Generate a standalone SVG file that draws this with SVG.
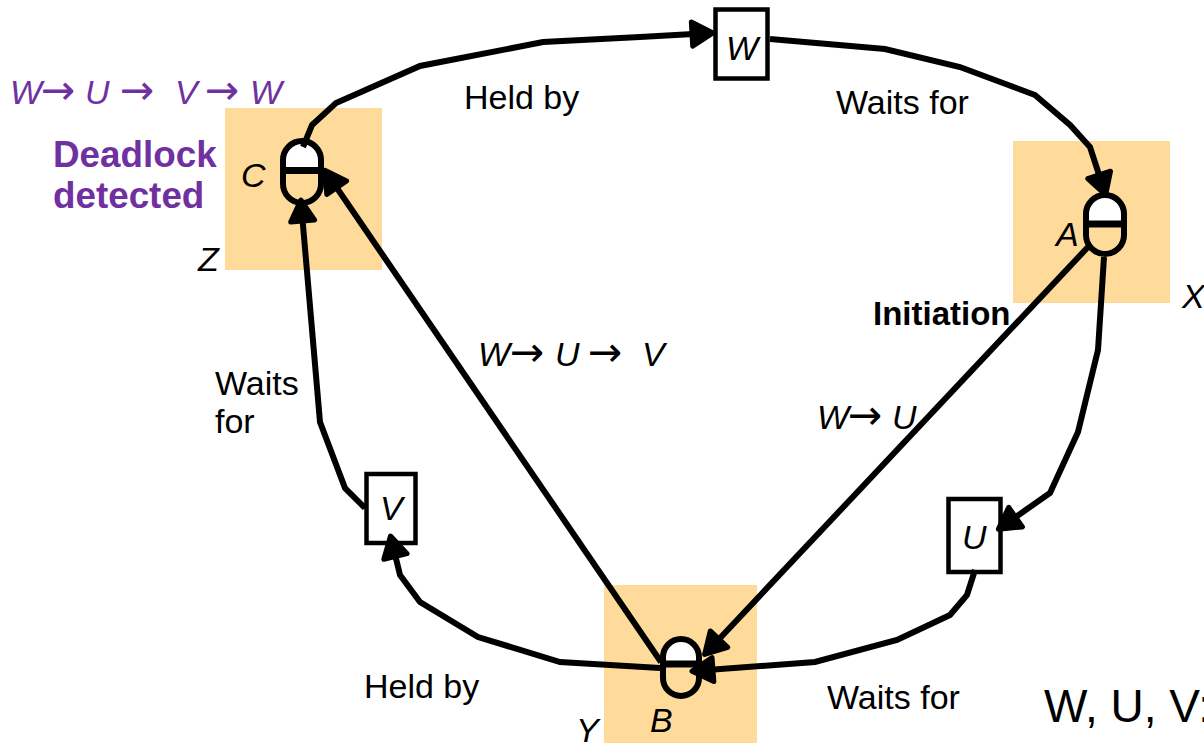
<svg xmlns="http://www.w3.org/2000/svg" width="1204" height="743" viewBox="0 0 1204 743">
<style>
text{font-family:"Liberation Sans",Arial,sans-serif;font-size:34px;fill:#000}
.i{font-style:italic}
.p{fill:#7030a0}
.b{font-weight:bold}
.ar{font-family:"DejaVu Sans",sans-serif;font-style:normal;font-size:41px}
.zone{fill:#fedb9a}
.box{fill:#fff;stroke:#000;stroke-width:4.500}
.cap{fill:none;stroke:#000;stroke-width:6}
.top{fill:#fff}
.bar{stroke:#000;stroke-width:7}
.c{fill:none;stroke:#000;stroke-width:6;stroke-linejoin:miter;marker-end:url(#a)}
</style>
<defs>
<marker id="a" markerUnits="userSpaceOnUse" markerWidth="36" markerHeight="36" refX="20" refY="13" orient="auto" viewBox="-4 -4 36 36">
<path d="M1 1L22 13L1 25Z" fill="#000" stroke="#000" stroke-width="5" stroke-linejoin="round"/>
</marker>
</defs>
<g id="zone-z"><rect class="zone" x="225" y="108" width="157" height="162"/></g>
<g id="zone-x"><rect class="zone" x="1013" y="141" width="157" height="162"/></g>
<g id="zone-y"><rect class="zone" x="604" y="585" width="153" height="158"/></g>
<g id="node-c">
<path class="top" d="M283 170V160a19 19 0 0 1 38 0V170Z"/>
<rect class="cap" x="283" y="141" width="38" height="62" rx="19"/>
<line class="bar" x1="283" y1="170.500" x2="321" y2="170.500"/>
<text class="i" x="241" y="187">C</text>
</g>
<g id="node-a">
<path class="top" d="M1086 224V214a19 19 0 0 1 38 0V224Z"/>
<rect class="cap" x="1086" y="195" width="38" height="59" rx="19"/>
<line class="bar" x1="1086" y1="224" x2="1124" y2="224"/>
<text class="i" x="1056" y="246">A</text>
</g>
<g id="node-b">
<path class="top" d="M663 664V657a18 18 0 0 1 36 0V664Z"/>
<rect class="cap" x="663" y="639" width="36" height="57" rx="18"/>
<line class="bar" x1="663" y1="664" x2="699" y2="664"/>
<text class="i" x="650" y="732">B</text>
</g>
<g id="node-w"><rect class="box" x="715.500" y="9.500" width="52" height="69"/><text class="i" x="726" y="60">W</text></g>
<g id="node-v"><rect class="box" x="366.500" y="474" width="49" height="69"/><text class="i" x="380" y="520">V</text></g>
<g id="node-u"><rect class="box" x="948.500" y="499" width="52" height="73"/><text class="i" x="962" y="549">U</text></g>
<g id="connectors">
<polyline class="c" points="303,147 312,125 336,103 420,66 543,42 640,37 711,33"/>
<polyline class="c" points="770,39 885,49 960,67 1035,95 1070,125 1090,147 1105,193"/>
<polyline class="c" points="1104,257 1098,350 1078,432 1050,493 1000,528"/>
<polyline class="c" points="975,570 967,595 950,615 897,640 815,662 694,671"/>
<line class="c" x1="1088" y1="247" x2="706" y2="653"/>
<line class="c" x1="661" y1="662" x2="326" y2="172"/>
<polyline class="c" points="660,668 560,662 478,637 420,602 400,575 391,538"/>
<polyline class="c" points="365,508 345,488 320,422 301,202"/>
</g>
<g id="labels">
<text x="464" y="109">Held by</text>
<text x="836" y="114">Waits for</text>
<text x="364" y="698">Held by</text>
<text x="827" y="709">Waits for</text>
<text x="215" y="395">Waits</text>
<text x="215" y="433">for</text>
<text class="b" x="873" y="325" style="font-size:33px">Initiation</text>
<text class="i" y="429"><tspan x="817">W</tspan><tspan class="ar" x="848">→</tspan><tspan x="892">U</tspan></text>
<text class="i" y="366"><tspan x="478">W</tspan><tspan class="ar" x="510">→</tspan><tspan x="555">U</tspan><tspan class="ar" x="588">→</tspan><tspan x="642">V</tspan></text>
<text class="i p" y="104"><tspan x="10">W</tspan><tspan class="ar" x="41">→</tspan><tspan x="85">U</tspan><tspan class="ar" x="120">→</tspan><tspan x="175">V</tspan><tspan class="ar" x="205">→</tspan><tspan x="250">W</tspan></text>
<text class="b p" x="53" y="167" style="font-size:36.800px">Deadlock</text>
<text class="b p" x="53" y="208" style="font-size:36.800px">detected</text>
<text class="i" x="198" y="271">Z</text>
<text class="i" x="1182" y="308">X</text>
<text class="i" x="576" y="742">Y</text>
<text x="1044" y="722" style="font-size:46px">W, U, V:</text>
</g>
</svg>
